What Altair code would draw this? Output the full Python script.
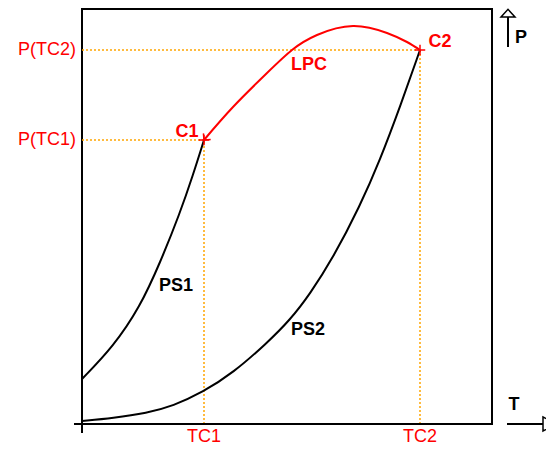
import altair as alt
import pandas as pd

# ---- data (chart units: T along x, P along y) ----
ps1_t = [0, 31, 58, 78, 98, 111, 122]
ps1_p = [45, 77, 117, 161, 211, 249, 284]
ps2_t = [0, 31, 65, 91, 121, 151, 185, 208, 228, 251, 278, 298, 318, 338]
ps2_p = [3, 6, 11, 18, 32, 51, 81, 104, 130, 166, 218, 264, 317, 374]
lpc_t = [122, 151, 185, 210, 235, 271, 305, 325, 338]
lpc_p = [284, 317, 351, 374, 389, 398, 391, 382, 374]
crit_names = ["C1", "C2"]
crit_t = [122, 338]
crit_p = [284, 374]
t_labels = ["TC1", "TC2"]
p_labels = ["P(TC1)", "P(TC2)"]
T_MAX, P_MAX = 410, 415

W, H = 410, 415
FONT = "Liberation Sans"
RED = "#ff0000"
ORANGE = "#ffa500"

xs = alt.Scale(domain=[0, T_MAX], nice=False, zero=False)
ys = alt.Scale(domain=[0, P_MAX], nice=False, zero=False)


def X(f):
    return alt.X(f, type="quantitative", scale=xs, axis=None)


def Y(f):
    return alt.Y(f, type="quantitative", scale=ys, axis=None)


crit = pd.DataFrame({"name": crit_names, "t": crit_t, "p": crit_p,
                     "tl": t_labels, "pl": p_labels, "zero": [0, 0]})
ps1 = pd.DataFrame({"t": ps1_t, "p": ps1_p})
ps2 = pd.DataFrame({"t": ps2_t, "p": ps2_p})
lpc = pd.DataFrame({"t": lpc_t, "p": lpc_p})

# label anchor points (chart units)
lab_pts = pd.DataFrame({
    "name": ["C1", "C2", "LPC", "PS1", "PS2"],
    "t": [105, 358, 227, 94, 226],
    "p": [292, 382, 359, 138, 94],
    "col": [RED, RED, RED, "#000000", "#000000"],
})

hdot = alt.Chart(crit).mark_rule(color=ORANGE, strokeWidth=1.5, strokeDash=[2, 2]).encode(
    x=X("zero"), x2="t", y=Y("p"))
vdot = alt.Chart(crit).mark_rule(color=ORANGE, strokeWidth=1.5, strokeDash=[2, 2]).encode(
    x=X("t"), y=Y("zero"), y2="p")

l_ps1 = alt.Chart(ps1).mark_line(color="black", strokeWidth=2, interpolate="basis").encode(
    x=X("t"), y=Y("p"))
l_ps2 = alt.Chart(ps2).mark_line(color="black", strokeWidth=2, interpolate="basis").encode(
    x=X("t"), y=Y("p"))
l_lpc = alt.Chart(lpc).mark_line(color=RED, strokeWidth=2, interpolate="natural").encode(
    x=X("t"), y=Y("p"))

cross = alt.Chart(crit).mark_point(shape="M-1,0L1,0M0,-1L0,1", size=110, color=RED,
                                   filled=False, strokeWidth=1.5, opacity=1).encode(
    x=X("t"), y=Y("p"))
arrow_c1 = alt.Chart(crit[crit["name"] == "C1"]).mark_point(
    shape="M-1,-1L0,0L-1,1", size=90, angle=130, color=RED, filled=False,
    strokeWidth=1.5, opacity=1).encode(x=X("t"), y=Y("p"))

# axes decorations (pixel positions within plot area)
base_line = alt.Chart(crit).mark_rule(color="black", strokeWidth=2).encode(
    x=alt.value(-8), x2=alt.value(W), y=alt.value(H))
tick0 = alt.Chart(crit).mark_rule(color="black", strokeWidth=2).encode(
    x=alt.value(0), y=alt.value(H), y2=alt.value(H + 9))
t_arrow = alt.Chart(crit).mark_rule(color="black", strokeWidth=2).encode(
    x=alt.value(425), x2=alt.value(466), y=alt.value(H))
t_head = alt.Chart(crit[crit["name"] == "C1"]).mark_point(
    shape="M0,-1L2,0L0,1Z", size=196, fill="white", stroke="black", strokeWidth=1.5,
    opacity=1, filled=True).encode(x=alt.value(461), y=alt.value(H))
p_arrow = alt.Chart(crit).mark_rule(color="black", strokeWidth=2).encode(
    x=alt.value(426), y=alt.value(8), y2=alt.value(38))
p_head = alt.Chart(crit[crit["name"] == "C1"]).mark_point(
    shape="M-1,0L0,-1.1L1,0Z", size=196, fill="white", stroke="black", strokeWidth=1.5,
    opacity=1, filled=True).encode(x=alt.value(426), y=alt.value(8))

p_text = alt.Chart(crit).mark_text(font=FONT, fontSize=18, color=RED, align="right",
                                   baseline="middle").encode(
    x=alt.value(-6), y=Y("p"), text="pl")
t_text = alt.Chart(crit).mark_text(font=FONT, fontSize=18, color=RED, align="center",
                                   baseline="middle").encode(
    x=X("t"), y=alt.value(H + 13), text="tl")
names_text = alt.Chart(lab_pts).mark_text(font=FONT, fontSize=18, fontWeight="bold",
                                          align="center", baseline="middle").encode(
    x=X("t"), y=Y("p"), text="name", color=alt.Color("col:N", scale=None))
T_text = alt.Chart(crit[crit["name"] == "C1"]).mark_text(
    font=FONT, fontSize=18, fontWeight="bold", align="center", baseline="middle",
    text="T").encode(x=alt.value(432), y=alt.value(H - 19))
P_text = alt.Chart(crit[crit["name"] == "C1"]).mark_text(
    font=FONT, fontSize=18, fontWeight="bold", align="center", baseline="middle",
    text="P").encode(x=alt.value(439), y=alt.value(29))

chart = alt.layer(
    hdot, vdot, l_ps1, l_ps2, l_lpc, cross, arrow_c1,
    base_line, tick0, t_arrow, t_head, p_arrow, p_head,
    p_text, t_text, names_text, T_text, P_text,
).properties(
    width=W, height=H,
    autosize=alt.AutoSizeParams(type="none"),
    padding={"left": 74, "top": 1, "right": 54, "bottom": 23},
).configure_view(stroke="black", strokeWidth=2)

chart.save("out.html", embed_options={"renderer": "svg", "actions": False})
